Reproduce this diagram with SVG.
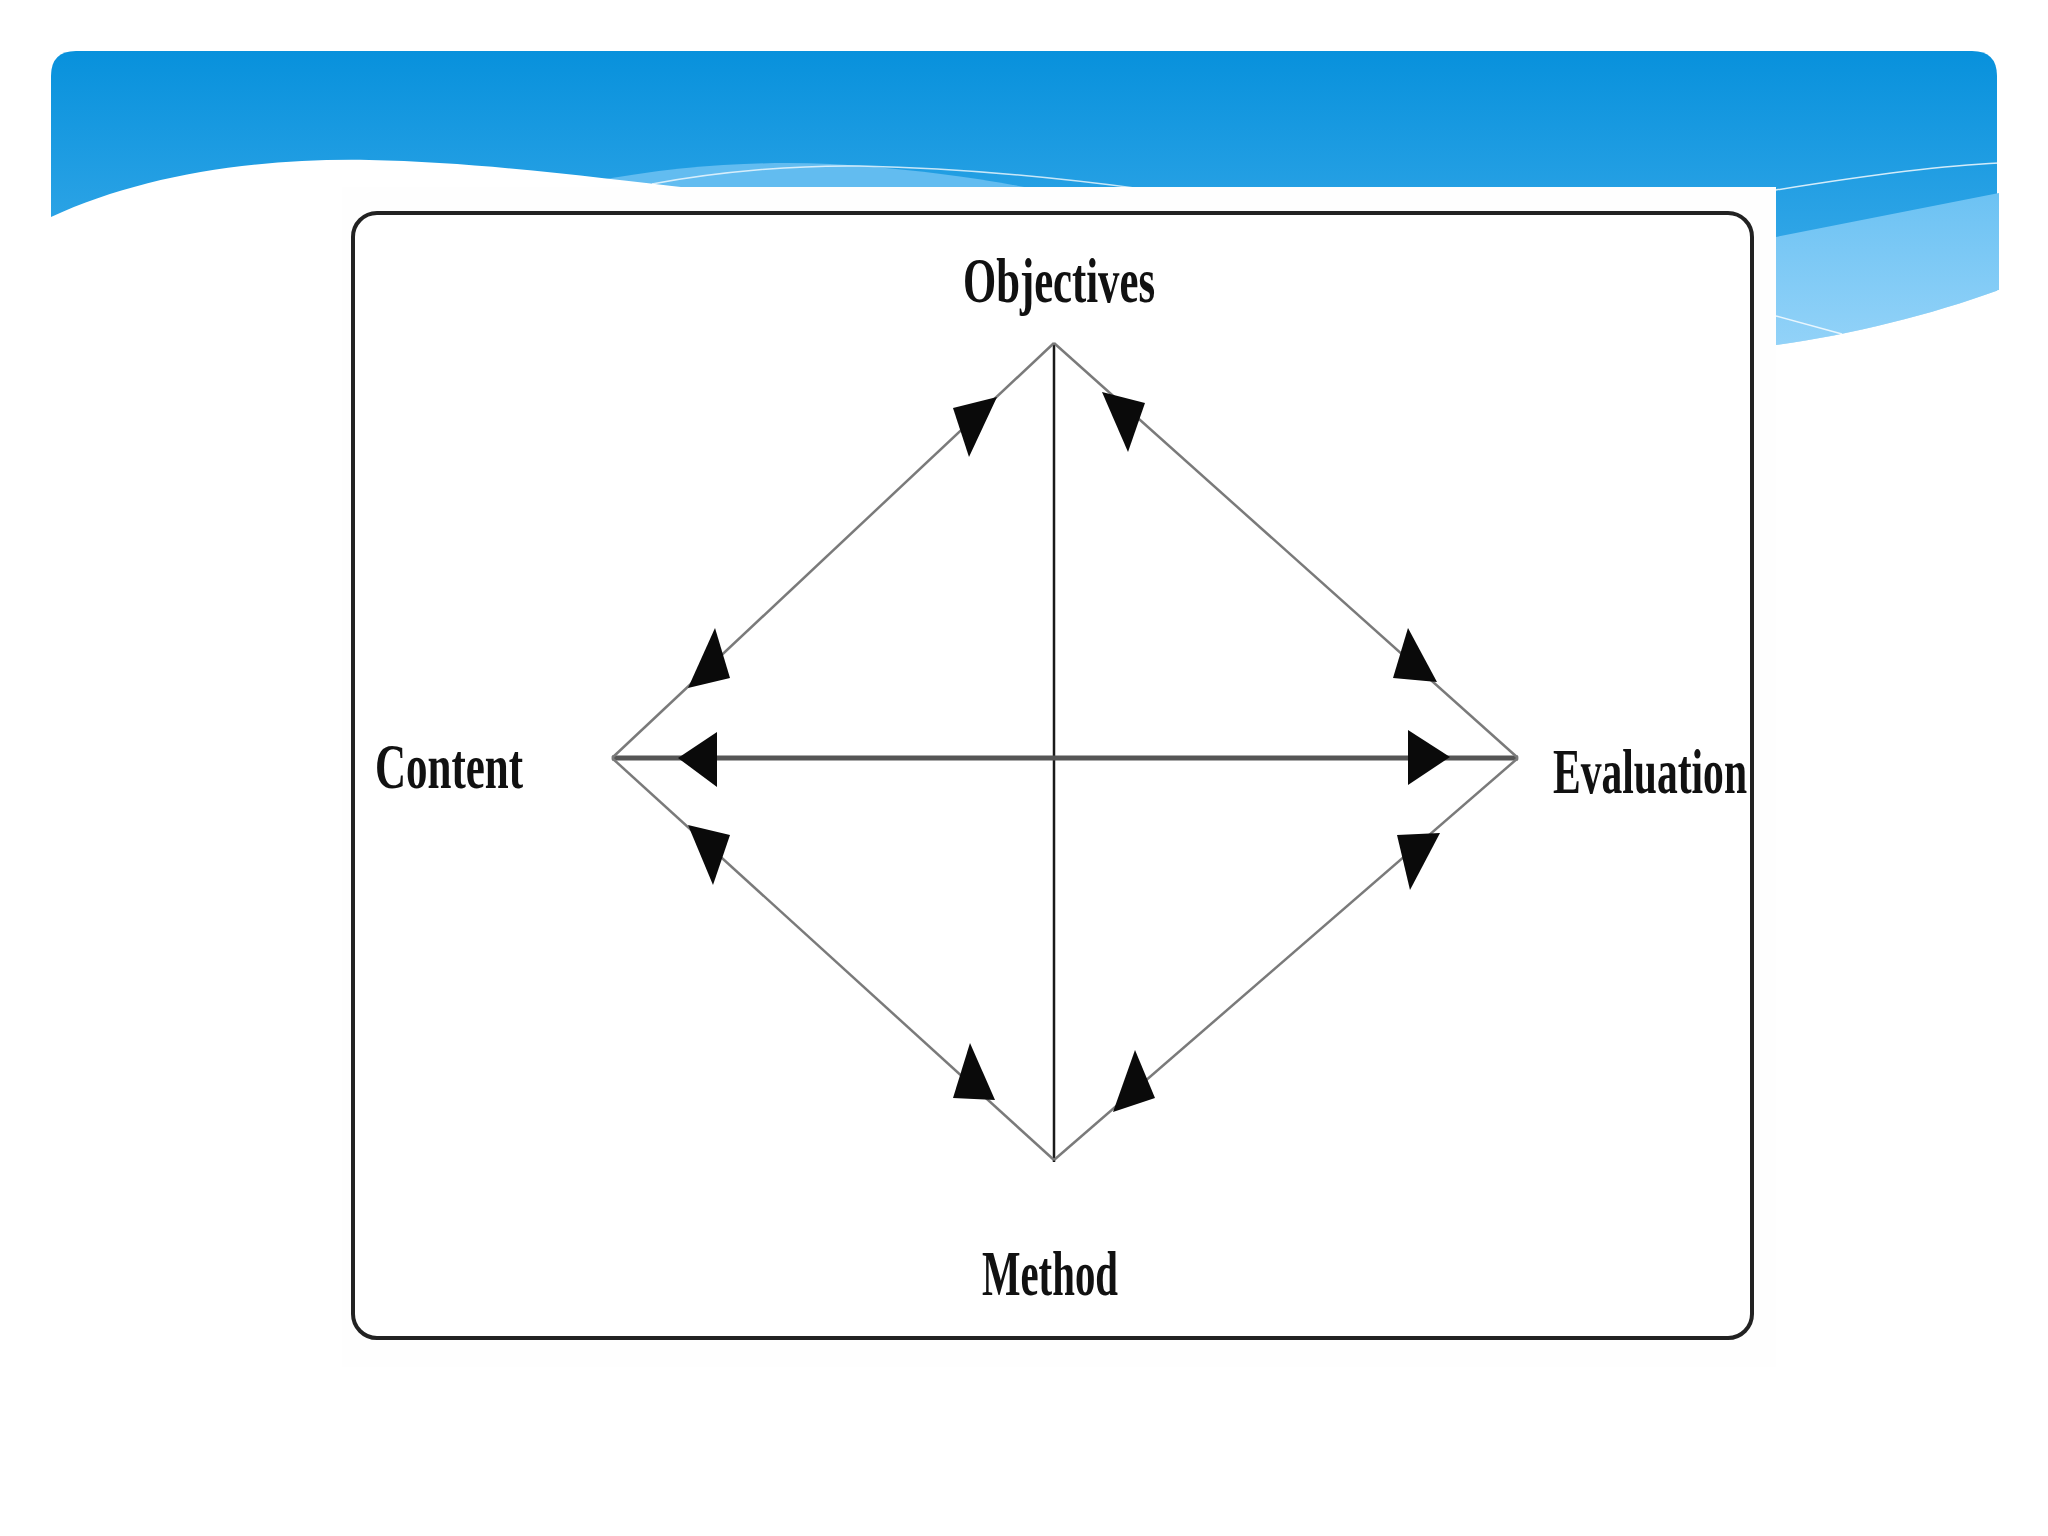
<svg xmlns="http://www.w3.org/2000/svg" width="2048" height="1536" viewBox="0 0 2048 1536">
<defs>
<linearGradient id="hdr" x1="0" y1="0" x2="0" y2="1" gradientUnits="objectBoundingBox">
<stop offset="0" stop-color="#0891dc"/>
<stop offset="1" stop-color="#45b0ec"/>
</linearGradient>
<linearGradient id="light" x1="0" y1="0" x2="0" y2="1">
<stop offset="0" stop-color="#6cc2f3"/>
<stop offset="1" stop-color="#92d2f8"/>
</linearGradient>
<style>
.lbl{font-family:"Liberation Serif","Times New Roman",serif;font-weight:bold;font-size:64px;fill:#111;}
.diag{stroke:#7a7a7a;stroke-width:2.5;fill:none;}
.head{fill:#0a0a0a;}
</style>
</defs>
<rect width="2048" height="1536" fill="#ffffff"/>
<!-- header -->
<path d="M76,51 H1972 Q1997,51 1997,76 V345 H51 V76 Q51,51 76,51 Z" fill="url(#hdr)"/>
<path d="M590,182 C680,165 760,161 830,164 C920,169 990,180 1040,190 L590,190 Z" fill="#62bcf0"/>
<path d="M652,184 C720,171 800,165 860,166 C960,168 1060,178 1142,189" stroke="#ffffff" stroke-opacity="0.75" stroke-width="1.5" fill="none"/>
<path d="M1776,237 L1999,193 L1999,290 C1930,315 1850,335 1776,345 Z" fill="url(#light)"/>
<path d="M1776,190 C1850,178 1930,166 1999,163" stroke="#ffffff" stroke-opacity="0.8" stroke-width="1.5" fill="none"/>
<path d="M1776,316 L1842,334" stroke="#ffffff" stroke-opacity="0.8" stroke-width="1.5" fill="none"/>
<path d="M51,217 C140,176 250,158 369,160 C480,162 600,178 690,188 L1776,345 C1850,335 1930,315 1999,290 L1999,420 L51,420 Z" fill="#ffffff"/>
<!-- embedded image area -->
<rect x="342" y="187" width="1434" height="1180" fill="#fefefe"/>
<rect x="353" y="213" width="1399" height="1125" rx="24" ry="24" fill="#ffffff" stroke="#222" stroke-width="4"/>
<!-- connectors -->
<g id="connectors">
<line x1="1054" y1="343" x2="1054" y2="1162" stroke="#1a1a1a" stroke-width="2.5"/>
<line x1="612" y1="758" x2="1518" y2="758" stroke="#555" stroke-width="5"/>
<line class="diag" x1="612" y1="758" x2="1054" y2="343"/>
<line class="diag" x1="1054" y1="343" x2="1518" y2="758"/>
<line class="diag" x1="612" y1="758" x2="1054" y2="1160"/>
<line class="diag" x1="1054" y1="1160" x2="1518" y2="758"/>
<polygon class="head" points="953,408 997,397 969,457"/>
<polygon class="head" points="1102,392 1145,403 1128,452"/>
<polygon class="head" points="715,628 730,678 688,688"/>
<polygon class="head" points="678,758 717,732 717,787"/>
<polygon class="head" points="688,825 730,835 713,885"/>
<polygon class="head" points="1408,628 1393,678 1437,682"/>
<polygon class="head" points="1450,757 1408,730 1408,785"/>
<polygon class="head" points="1397,835 1440,833 1410,890"/>
<polygon class="head" points="970,1043 953,1098 995,1100"/>
<polygon class="head" points="1135,1050 1155,1098 1113,1112"/>
</g>
<g id="objectives"><text class="lbl" x="963" y="302" textLength="192" lengthAdjust="spacingAndGlyphs">Objectives</text></g>
<g id="content"><text class="lbl" x="375" y="788" textLength="148" lengthAdjust="spacingAndGlyphs">Content</text></g>
<g id="evaluation"><text class="lbl" x="1553" y="793" textLength="194" lengthAdjust="spacingAndGlyphs">Evaluation</text></g>
<g id="method"><text class="lbl" x="982" y="1295" textLength="136" lengthAdjust="spacingAndGlyphs">Method</text></g>
</svg>
